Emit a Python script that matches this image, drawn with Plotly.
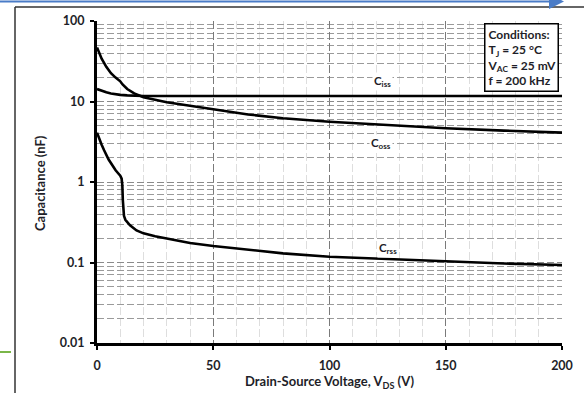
import math
import plotly.graph_objects as go

# ---- data ----
v_iss = [0, 1, 2, 4, 6, 8, 10, 13, 16, 20, 30, 50, 100, 150, 200]
c_iss = [14.3, 13.9, 13.5, 13.0, 12.6, 12.3, 12.1, 11.9, 11.8, 11.7, 11.7, 11.7, 11.7, 11.7, 11.7]

v_oss = [0, 1, 2, 4, 6, 8, 10, 11, 13, 16, 20, 30, 40, 50, 65, 80, 100, 125, 150, 175, 200]
c_oss = [47, 40, 34, 27, 22.5, 19.8, 17.8, 16.3, 14.3, 12.6, 11.3, 9.8, 8.8, 8.0, 6.9, 6.2, 5.6, 5.1, 4.65, 4.35, 4.1]

v_rss = [0, 1, 2, 3, 5, 8, 10, 10.6, 10.9, 11.1, 11.3, 11.6, 12.2, 13, 14.2, 17, 20, 25, 30, 40, 50, 65, 80, 100, 125, 150, 175, 200]
c_rss = [4.1, 3.4, 2.9, 2.5, 1.9, 1.4, 1.2, 1.1, 0.9, 0.6, 0.45, 0.38, 0.34, 0.315, 0.29, 0.25, 0.23, 0.212, 0.2, 0.175, 0.16, 0.143, 0.13, 0.118, 0.11, 0.102, 0.097, 0.093]

x_ticks = [0, 50, 100, 150, 200]
y_ticks = [0.01, 0.1, 1, 10, 100]
y_tick_text = ["0.01", "0.1", "1", "10", "100"]
y_minor = [m * 10 ** e for e in (-2, -1, 0, 1) for m in range(2, 10)]

curve_labels = ["C<sub>iss</sub>", "C<sub>oss</sub>", "C<sub>rss</sub>"]
label_x = [123, 122, 125]
label_y = [17.5, 3.05, 0.151]

conditions = ["Conditions:", "T<sub>J</sub> = 25 °C", "V<sub>AC</sub> = 25 mV", "f = 200 kHz"]

FONT = "Lato"
TXT = "#1e1e28"

# plot area in pixels
L, R, T, B = 97, 562, 21, 343
W, H = 584, 393
def px(x):
    return (x - L) / (R - L)
def py(y):
    return (B - y) / (B - T)

fig = go.Figure()
for v, c in ((v_iss, c_iss), (v_oss, c_oss), (v_rss, c_rss)):
    fig.add_trace(go.Scatter(x=v, y=c, mode="lines",
                             line=dict(color="black", width=2.6),
                             showlegend=False, hoverinfo="skip"))

fig.update_layout(
    width=W, height=H,
    margin=dict(l=L, r=W - R, t=T, b=H - B, autoexpand=False),
    paper_bgcolor="white", plot_bgcolor="white",
    font=dict(family=FONT, color=TXT),
)

fig.update_xaxes(
    range=[0, 200], tickvals=x_ticks,
    showline=True, linewidth=3, linecolor="black",
    ticks="outside", ticklen=4, tickwidth=1.5, tickcolor="black",
    ticklabelstandoff=5,
    tickfont=dict(size=12.5, weight="bold", family=FONT, color=TXT),
    showgrid=True, gridcolor="#7a7a7a", gridwidth=1, griddash="8px,3px",
    minor=dict(dtick=10, showgrid=True, gridcolor="#dedede", gridwidth=1),
    zeroline=False, mirror=False, automargin=False,
)
fig.update_yaxes(
    type="log", range=[-2, 2], tickvals=y_ticks, ticktext=y_tick_text,
    showline=True, linewidth=3, linecolor="black",
    ticks="outside", ticklen=4, tickwidth=1.5, tickcolor="black",
    ticklabelstandoff=3,
    tickfont=dict(size=12.5, weight="bold", family=FONT, color=TXT),
    showgrid=True, gridcolor="#8a8a8a", gridwidth=1, griddash="7px,3px",
    minor=dict(tickmode="array", tickvals=y_minor, showgrid=True,
               gridcolor="#9a9a9a", gridwidth=1, griddash="7px,3px"),
    zeroline=False, automargin=False,
)

# axis titles
fig.add_annotation(x=0.5, y=py(382), xref="paper", yref="paper",
                   xanchor="center", yanchor="middle",
                   text="Drain-Source Voltage, V<sub>DS</sub> (V)", showarrow=False,
                   font=dict(size=13, weight="bold", family=FONT, color=TXT))
fig.add_annotation(x=px(40), y=py(183), xref="paper", yref="paper",
                   xanchor="center", yanchor="middle",
                   text="Capacitance (nF)", textangle=-90, showarrow=False,
                   font=dict(size=13, weight="bold", family=FONT, color=TXT))

# curve labels
for label, x, y in zip(curve_labels, label_x, label_y):
    fig.add_annotation(x=x, y=math.log10(y), text=label, showarrow=False,
                       xanchor="center", yanchor="middle",
                       font=dict(size=11.5, weight="bold", family=FONT, color=TXT),
                       bgcolor="white")

# conditions box
fig.add_annotation(x=px(559), y=py(23), xref="paper", yref="paper",
                   xanchor="right", yanchor="top", align="left",
                   text="<br>".join(conditions), showarrow=False,
                   bgcolor="white", bordercolor="black", borderwidth=1.5, borderpad=2,
                   font=dict(size=12, weight="bold", family=FONT, color=TXT))

# outer frame (left and top edges of the surrounding box)
fig.add_shape(type="line", xref="paper", yref="paper", layer="above",
              x0=px(15), x1=px(15), y0=py(7), y1=py(400),
              line=dict(color="#333333", width=1.5))
fig.add_shape(type="line", xref="paper", yref="paper", layer="above",
              x0=px(15), x1=px(590), y0=py(7), y1=py(7),
              line=dict(color="#333333", width=1.5))
# blue arrow at very top
fig.add_shape(type="line", xref="paper", yref="paper", layer="above",
              x0=px(0), x1=px(552), y0=py(1.5), y1=py(1.5),
              line=dict(color="#4a7cc7", width=2))
fig.add_shape(type="path", xref="paper", yref="paper", layer="above",
              path=f"M {px(549)} {py(-6)} L {px(564)} {py(1.5)} L {px(549)} {py(9)} Z",
              fillcolor="#4a7cc7", line=dict(width=0))
# small green mark bottom-left
fig.add_shape(type="line", xref="paper", yref="paper", layer="above",
              x0=px(0), x1=px(11), y0=py(352), y1=py(352),
              line=dict(color="#7ab648", width=2))

fig.write_html(
    "out.html",
    config={"displayModeBar": False},
    post_script="document.body.style.margin='0';document.body.style.padding='0';",
)
